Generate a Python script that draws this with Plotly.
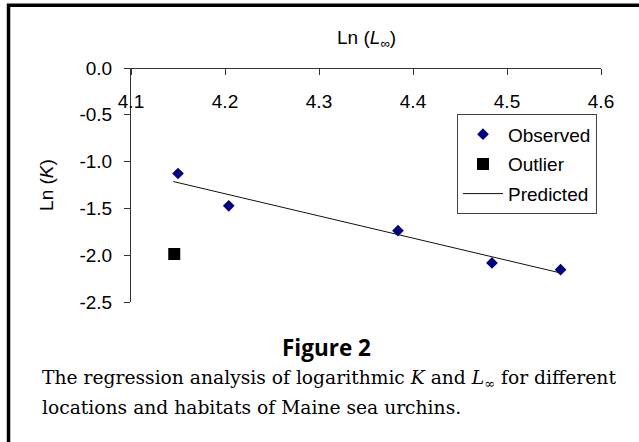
import plotly.graph_objects as go

# Data
obs_x = [4.150, 4.204, 4.384, 4.484, 4.557]
obs_y = [-1.127, -1.473, -1.738, -2.083, -2.155]
out_x = [4.146]
out_y = [-1.987]
pred_x = [4.145, 4.557]
pred_y = [-1.213, -2.190]
x_ticks = [4.1, 4.2, 4.3, 4.4, 4.5, 4.6]
y_ticks = [0.0, -0.5, -1.0, -1.5, -2.0, -2.5]

SANS = "Liberation Sans, Arial, sans-serif"
SERIF = "DejaVu Serif, serif"

fig = go.Figure()
fig.add_trace(go.Scatter(x=obs_x, y=obs_y, mode="markers", name="Observed",
                         legendgroup="a",
                         marker=dict(symbol="diamond", size=9, color="#000080")))
fig.add_trace(go.Scatter(x=out_x, y=out_y, mode="markers", name="Outlier",
                         legendgroup="b",
                         marker=dict(symbol="square", size=12, color="#000000")))
fig.add_trace(go.Scatter(x=pred_x, y=pred_y, mode="lines", name="Predicted",
                         legendgroup="c",
                         line=dict(color="#111111", width=1)))

fig.update_layout(
    width=639, height=442,
    margin=dict(l=131, r=38, t=68, b=140),
    paper_bgcolor="white", plot_bgcolor="white",
    font=dict(family=SANS, size=19, color="black"),
    showlegend=True,
    legend=dict(x=0.6936, y=0.802, xanchor="left", yanchor="top",
                bordercolor="#444444", borderwidth=1, bgcolor="white",
                font=dict(family=SANS, size=19, color="black"),
                tracegroupgap=2, traceorder="grouped", itemwidth=40),
    xaxis=dict(range=[4.1, 4.6], tickvals=x_ticks,
               ticktext=[f"{v:.1f}" for v in x_ticks],
               anchor="free", position=1, side="bottom",
               showline=True, linecolor="#333333", linewidth=1,
               ticks="outside", ticklen=6, tickcolor="#333333",
               ticklabelstandoff=10,
               showgrid=False, zeroline=False),
    yaxis=dict(range=[-2.5, 0.0], tickvals=y_ticks,
               ticktext=[f"{v:.1f}" for v in y_ticks],
               showline=True, linecolor="#333333", linewidth=1,
               ticks="outside", ticklen=6, tickcolor="#333333",
               ticklabelstandoff=8,
               showgrid=False, zeroline=False),
)

# outer frame (extends beyond the picture on right and bottom)
fig.add_shape(type="rect", xref="paper", yref="paper",
              x0=-0.2606, y0=-0.70, x1=1.25, y1=1.268,
              line=dict(color="black", width=3.5), fillcolor="rgba(0,0,0,0)",
              layer="above")

fig.add_annotation(text="Ln (<i>L</i><sub>∞</sub>)", xref="paper", yref="paper",
                   x=0.5, y=1.1227, xanchor="center", yanchor="middle",
                   showarrow=False, font=dict(family=SANS, size=19))
fig.add_annotation(text="Ln (<i>K</i>)", xref="paper", yref="paper",
                   x=-0.181, y=0.5, xanchor="center", yanchor="middle",
                   textangle=-90, showarrow=False, font=dict(family=SANS, size=19))
fig.add_annotation(text="<b>Figure 2</b>", xref="paper", yref="paper",
                   x=0.417, y=-0.1936, xanchor="center", yanchor="middle",
                   showarrow=False, font=dict(family="Open Sans, sans-serif", size=22.5))
fig.add_annotation(text="The regression analysis of logarithmic <i>K</i> and <i>L</i><sub>∞</sub> for different",
                   xref="paper", yref="paper", x=-0.1936, y=-0.330,
                   xanchor="left", yanchor="middle", showarrow=False,
                   font=dict(family=SERIF, size=18.7))
fig.add_annotation(text="locations and habitats of Maine sea urchins.",
                   xref="paper", yref="paper", x=-0.1936, y=-0.4496,
                   xanchor="left", yanchor="middle", showarrow=False,
                   font=dict(family=SERIF, size=18.7))

fig.write_html("out.html", config={"displayModeBar": False},
               post_script="document.body.style.margin='0px';")
